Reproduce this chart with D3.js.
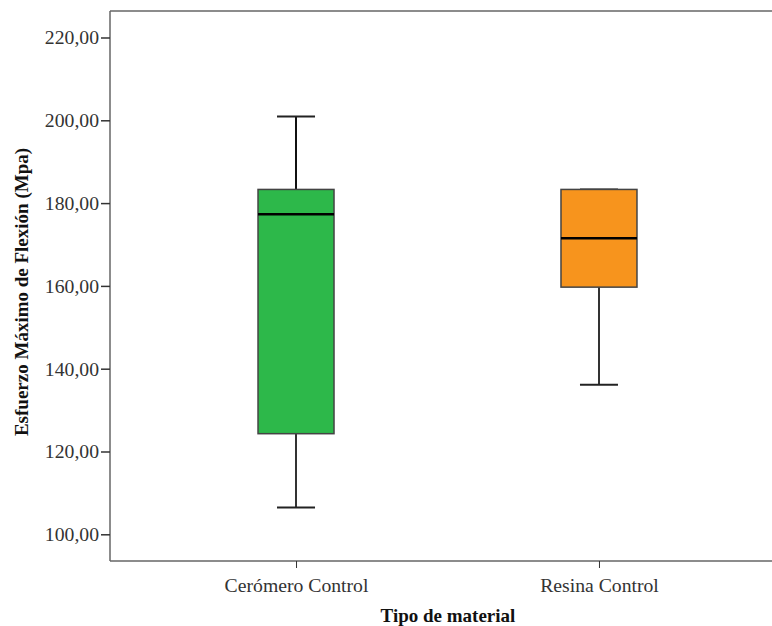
<!DOCTYPE html>
<html><head><meta charset="utf-8">
<script src="https://cdn.jsdelivr.net/npm/d3@7"></script>
<style>body{margin:0;background:#fff}svg{display:block}
svg text{font-family:'Liberation Serif','Times New Roman',serif}</style>
</head><body>
<svg id="c" width="772" height="626"></svg>
<script>
const categories = ["Cerómero Control", "Resina Control"];
const whiskerLow = [106.5, 136.1];
const q1 = [124.3, 159.7];
const median = [177.3, 171.5];
const q3 = [183.3, 183.3];
const whiskerHigh = [200.9, 183.3];
const colors = ["#2db84a", "#f7941d"];
const yTicks = [100, 120, 140, 160, 180, 200, 220];

const FONT = "'Liberation Serif','Times New Roman',serif";
const svg = d3.select("#c");
const pLeft = 110, pTop = 11, pBottom = 561;
const y = d3.scaleLinear().domain([93.55, 226.4]).range([pBottom, pTop]);
const x = d3.scalePoint().domain(categories).range([pLeft, 785]).padding(0.614);

const fmt = v => d3.format(".2f")(v).replace(".", ",");

svg.append("line").attr("x1", pLeft).attr("x2", 772).attr("y1", pTop).attr("y2", pTop).attr("stroke", "#666").attr("stroke-width", 1.5);
svg.append("line").attr("x1", pLeft).attr("x2", 772).attr("y1", pBottom).attr("y2", pBottom).attr("stroke", "#666").attr("stroke-width", 1.5);

const yAxis = svg.append("g").attr("transform", `translate(${pLeft},0)`)
  .call(d3.axisLeft(y).tickValues(yTicks).tickFormat(fmt).tickSize(9).tickPadding(2))
  .attr("font-family", FONT).attr("font-size", 19.7);
yAxis.select(".domain").attr("stroke", "#666").attr("stroke-width", 1.5).attr("d", `M0,${pTop}V${pBottom}`);
yAxis.selectAll(".tick line").attr("stroke", "#333").attr("stroke-width", 1.5);
yAxis.selectAll(".tick text").style("font-family", FONT).style("font-size", "19.7px").attr("fill", "#333");

const xAxis = svg.append("g").attr("transform", `translate(0,${pBottom})`)
  .call(d3.axisBottom(x).tickSize(7).tickPadding(10))
  .attr("font-family", FONT).attr("font-size", 19.7);
xAxis.select(".domain").remove();
xAxis.selectAll(".tick line").attr("stroke", "#333").attr("stroke-width", 1);
xAxis.selectAll(".tick text").style("font-family", FONT).style("font-size", "19.7px").attr("fill", "#333");

const bw = 76, cap = 38;
categories.forEach((c, i) => {
  const cx = x(c);
  const g = svg.append("g");
  g.append("line").attr("x1", cx).attr("x2", cx).attr("y1", y(whiskerHigh[i])).attr("y2", y(q3[i])).attr("stroke", "#111").attr("stroke-width", 2);
  g.append("line").attr("x1", cx).attr("x2", cx).attr("y1", y(q1[i])).attr("y2", y(whiskerLow[i])).attr("stroke", "#333").attr("stroke-width", 2);
  g.append("line").attr("x1", cx - cap/2).attr("x2", cx + cap/2).attr("y1", y(whiskerHigh[i])).attr("y2", y(whiskerHigh[i])).attr("stroke", "#222").attr("stroke-width", 2);
  g.append("line").attr("x1", cx - cap/2).attr("x2", cx + cap/2).attr("y1", y(whiskerLow[i])).attr("y2", y(whiskerLow[i])).attr("stroke", "#222").attr("stroke-width", 2);
  g.append("rect").attr("x", cx - bw/2).attr("width", bw).attr("y", y(q3[i])).attr("height", y(q1[i]) - y(q3[i]))
    .attr("fill", colors[i]).attr("stroke", "#444").attr("stroke-width", 1.5);
  g.append("line").attr("x1", cx - bw/2).attr("x2", cx + bw/2).attr("y1", y(median[i])).attr("y2", y(median[i])).attr("stroke", "#000").attr("stroke-width", 2.5);
});

svg.append("text").attr("x", 448).attr("y", 622).attr("text-anchor", "middle")
  .style("font-family", FONT).attr("font-weight", "bold").style("font-size", "19px").attr("fill", "#111")
  .text("Tipo de material");
svg.append("text").attr("transform", "translate(28,292) rotate(-90)").attr("text-anchor", "middle")
  .style("font-family", FONT).attr("font-weight", "bold").style("font-size", "19px").attr("fill", "#111")
  .text("Esfuerzo Máximo de Flexión (Mpa)");
</script>
</body></html>
